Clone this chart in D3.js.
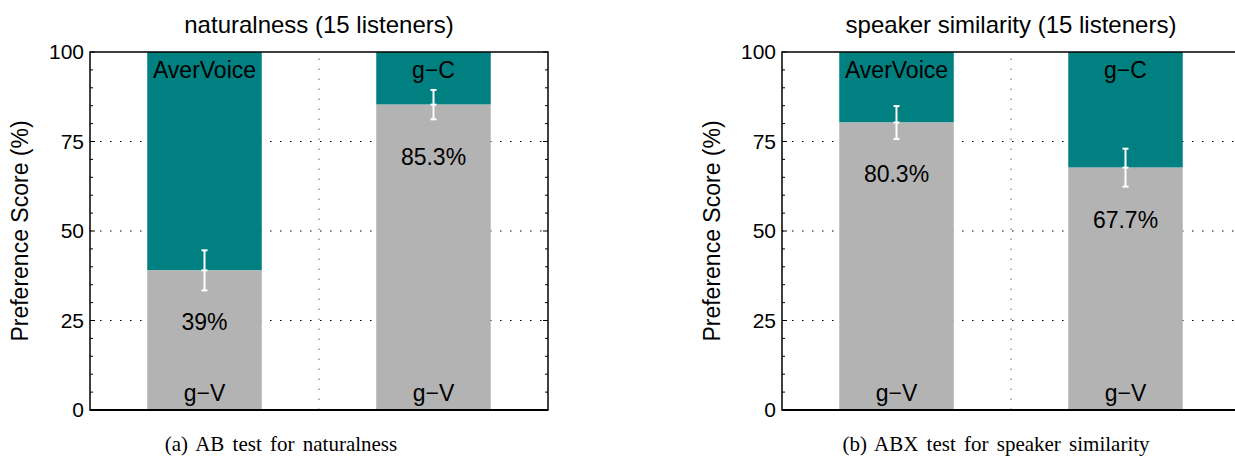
<!DOCTYPE html>
<html>
<head>
<meta charset="utf-8">
<script src="https://cdn.jsdelivr.net/npm/d3@7"></script>
<style>
  body { margin: 0; background: #fff; }
  svg text { font-family: "Liberation Sans", Arial, sans-serif; fill: #000; }
  .caption { font-family: "Liberation Serif", "Times New Roman", serif !important; word-spacing: 3px; }
</style>
</head>
<body>
<div id="chart"></div>
<script>
// values
const panelTitles = ["naturalness (15 listeners)", "speaker similarity (15 listeners)"];
const captions = ["(a) AB test for naturalness", "(b) ABX test for speaker similarity"];
const categories = ["pair1", "pair2"];
const naturalnessScores = [39, 85.3];
const naturalnessErrors = [5.6, 4.1];
const similarityScores = [80.3, 67.7];
const similarityErrors = [4.6, 5.3];
const naturalnessTopLabels = ["AverVoice", "g\u2212C"];
const similarityTopLabels = ["AverVoice", "g\u2212C"];
const bottomLabel = "g\u2212V";
const yTicks = [0, 25, 50, 75, 100];

const W = 1235, H = 456;
const FS = 23;
const svg = d3.select("#chart").append("svg")
  .attr("width", W).attr("height", H);

const panels = [
  { left: 90, right: 548, title: panelTitles[0], caption: captions[0], captionX: 281,
    scores: naturalnessScores, errors: naturalnessErrors, tops: naturalnessTopLabels },
  { left: 782, right: 1240, title: panelTitles[1], caption: captions[1], captionX: 996,
    scores: similarityScores, errors: similarityErrors, tops: similarityTopLabels }
];

const plotTop = 52, plotBottom = 410;
const y = d3.scaleLinear().domain([0, 100]).range([plotBottom, plotTop]);

panels.forEach(p => {
  const g = svg.append("g");
  const x = d3.scaleBand().domain(categories).range([p.left, p.right])
    .paddingInner(0.5).paddingOuter(0.25);
  const mid = (p.left + p.right) / 2;

  // dotted grid
  g.selectAll(".hgrid").data([25, 50, 75]).enter().append("line")
    .attr("x1", p.left).attr("x2", p.right)
    .attr("y1", d => y(d)).attr("y2", d => y(d))
    .attr("stroke", "#000").attr("stroke-width", 1)
    .attr("stroke-dasharray", "1.5,8.5");
  g.append("line")
    .attr("x1", mid).attr("x2", mid).attr("y1", plotBottom).attr("y2", plotTop)
    .attr("stroke", "#666").attr("stroke-width", 1)
    .attr("stroke-dasharray", "1.5,8.5");

  // stacked bars
  g.selectAll(".upper").data(p.scores).enter().append("rect")
    .attr("x", (d, i) => x(categories[i]))
    .attr("width", x.bandwidth())
    .attr("y", y(100))
    .attr("height", d => y(d) - y(100))
    .attr("fill", "#008080");
  g.selectAll(".lower").data(p.scores).enter().append("rect")
    .attr("x", (d, i) => x(categories[i]))
    .attr("width", x.bandwidth())
    .attr("y", d => y(d))
    .attr("height", d => y(0) - y(d))
    .attr("fill", "#b3b3b3");

  // error bars
  p.scores.forEach((v, i) => {
    const cx = x(categories[i]) + x.bandwidth() / 2;
    const e = p.errors[i];
    g.append("line").attr("x1", cx).attr("x2", cx)
      .attr("y1", y(v - e)).attr("y2", y(v + e))
      .attr("stroke", "#fff").attr("stroke-width", 2);
    [v - e, v, v + e].forEach(t => {
      g.append("line").attr("x1", cx - 3).attr("x2", cx + 3)
        .attr("y1", y(t)).attr("y2", y(t))
        .attr("stroke", "#fff").attr("stroke-width", 2);
    });
  });

  // bar labels
  g.selectAll(".toplab").data(p.tops).enter().append("text")
    .attr("x", (d, i) => x(categories[i]) + x.bandwidth() / 2)
    .attr("y", y(95))
    .attr("dy", "0.35em")
    .attr("text-anchor", "middle")
    .attr("font-size", FS)
    .text(d => d);
  g.selectAll(".botlab").data(p.scores).enter().append("text")
    .attr("x", (d, i) => x(categories[i]) + x.bandwidth() / 2)
    .attr("y", y(4.7))
    .attr("dy", "0.35em")
    .attr("text-anchor", "middle")
    .attr("font-size", FS)
    .text(bottomLabel);
  g.selectAll(".pct").data(p.scores).enter().append("text")
    .attr("x", (d, i) => x(categories[i]) + x.bandwidth() / 2)
    .attr("y", d => y(d - 14.5))
    .attr("dy", "0.35em")
    .attr("text-anchor", "middle")
    .attr("font-size", FS)
    .text(d => d + "%");

  // axes (box)
  const minor = d3.range(0, 101, 5);
  g.append("g").attr("transform", `translate(${p.left},0)`)
    .call(d3.axisLeft(y).tickValues(yTicks).tickSize(0).tickPadding(6))
    .call(a => a.select(".domain").remove())
    .call(a => a.selectAll("text").attr("font-size", 21)
      .style("font-family", "Liberation Sans, Arial, sans-serif"));
  [p.left, p.right].forEach(xx => {
    const dir = xx === p.left ? 1 : -1;
    g.selectAll(null).data(minor).enter().append("line")
      .attr("x1", xx).attr("x2", d => xx + dir * (d % 25 === 0 ? 5 : 3))
      .attr("y1", d => y(d)).attr("y2", d => y(d))
      .attr("stroke", "#000").attr("stroke-width", 1);
  });
  g.append("rect")
    .attr("x", p.left).attr("y", plotTop)
    .attr("width", p.right - p.left).attr("height", plotBottom - plotTop)
    .attr("fill", "none").attr("stroke", "#000").attr("stroke-width", 1.5);
  g.append("line").attr("x1", p.left).attr("x2", p.right)
    .attr("y1", plotBottom).attr("y2", plotBottom)
    .attr("stroke", "#000").attr("stroke-width", 2);

  // title, y label, caption
  g.append("text").attr("x", mid).attr("y", 33)
    .attr("text-anchor", "middle").attr("font-size", 24).text(p.title);
  g.append("text")
    .attr("transform", `translate(${p.left - 62},${(plotTop + plotBottom) / 2}) rotate(-90)`)
    .attr("text-anchor", "middle").attr("font-size", FS)
    .text("Preference Score (%)");
  g.append("text").attr("class", "caption")
    .attr("x", p.captionX).attr("y", 451)
    .attr("text-anchor", "middle").attr("font-size", 21).text(p.caption);
});
</script>
</body>
</html>
